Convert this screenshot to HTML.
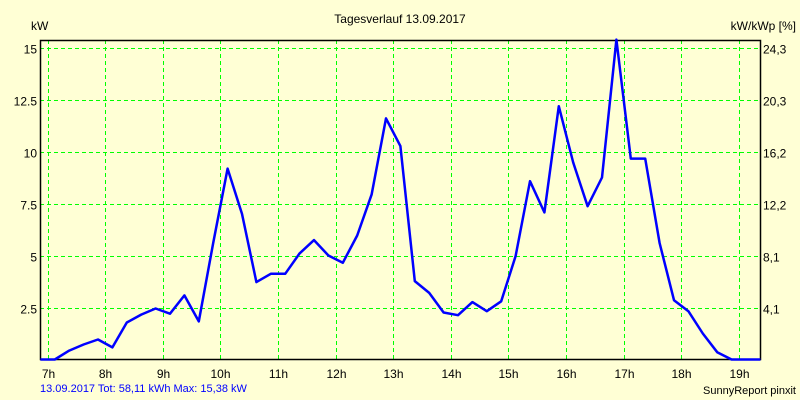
<!DOCTYPE html>
<html><head><meta charset="utf-8"><style>
body{margin:0;background:#FFFFD5;}
svg{display:block;font-family:"Liberation Sans",sans-serif;}
</style></head><body>
<svg id="chart" width="800" height="400" xmlns="http://www.w3.org/2000/svg">
<rect x="0" y="0" width="800" height="400" fill="#FFFFD5"/>
<text x="400" y="23" font-size="12" text-anchor="middle">Tagesverlauf 13.09.2017</text>
<text x="31" y="30" font-size="12">kW</text>
<text x="796" y="30" font-size="12" text-anchor="end">kW/kWp [%]</text>
<g id="grid"></g>
<g id="axes"></g>
<g id="series"></g>
<text x="40" y="392" font-size="11" fill="#0000FF">13.09.2017 Tot: 58,11 kWh Max: 15,38 kW</text>
<text x="796" y="394" font-size="11" text-anchor="end">SunnyReport pinxit</text>
</svg>
<script>
const hourLabels=["7h","8h","9h","10h","11h","12h","13h","14h","15h","16h","17h","18h","19h"];
const leftTicks=[2.5,5,7.5,10,12.5,15];
const leftTickLabels=["2.5","5","7.5","10","12.5","15"];
const rightTickLabels=["4,1","8,1","12,2","16,2","20,3","24,3"];
const startHour=6.875;
const stepHours=0.25;
const power=[0,0,0.43,0.72,0.96,0.58,1.78,2.16,2.45,2.2,3.08,1.83,5.6,9.18,7.0,3.72,4.12,4.12,5.1,5.74,5.0,4.65,5.96,7.93,11.59,10.26,3.77,3.2,2.26,2.13,2.76,2.32,2.8,4.97,8.57,7.07,12.18,9.47,7.37,8.75,15.38,9.66,9.66,5.6,2.85,2.32,1.25,0.35,0,0,0];

const L=40,R=760,T=40,B=359;
const x=h=>47.6+(h-7)*57.6;
const y=v=>359.5-v*20.8;
const NS="http://www.w3.org/2000/svg";
function mk(tag,attrs,parent){const e=document.createElementNS(NS,tag);for(const k in attrs)e.setAttribute(k,attrs[k]);parent.appendChild(e);return e;}
const grid=document.getElementById('grid'),axes=document.getElementById('axes'),series=document.getElementById('series');
hourLabels.forEach((lab,i)=>{
  const xx=Math.round(x(7+i))+0.5;
  const g=mk('line',{x1:xx,x2:xx,y1:T,y2:B,stroke:'#00FF00','stroke-dasharray':'4,3'},grid);
  
  
  const t=mk('text',{x:xx,y:378,'font-size':12,'text-anchor':'middle'},axes);
  t.textContent=lab;
  
  
});
leftTicks.forEach((v,i)=>{
  const yy=Math.round(y(v))+0.5;
  const g=mk('line',{x1:L,x2:R,y1:yy,y2:yy,stroke:'#00FF00','stroke-dasharray':'4,3'},grid);
  
  
  const t=mk('text',{x:37,y:yy+5,'font-size':12,'text-anchor':'end'},axes);
  t.textContent=leftTickLabels[i];
  
  
  const t2=mk('text',{x:763,y:yy+5,'font-size':12},axes);
  t2.textContent=rightTickLabels[i];
  
  
});
const frame=mk('rect',{x:L+0.5,y:T+0.5,width:R-L,height:B-T,fill:'none',stroke:'#000','stroke-width':1.5},axes);


const pts=power.map((v,i)=>x(startHour+i*stepHours).toFixed(1)+','+y(v).toFixed(1)).join(' ');
const pl=mk('polyline',{points:pts,fill:'none',stroke:'#0000FF','stroke-width':2.5,'stroke-linejoin':'round'},series);


</script>
</body></html>
